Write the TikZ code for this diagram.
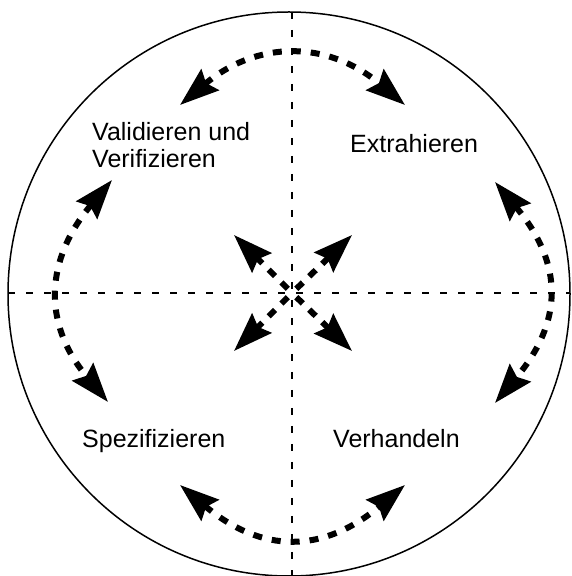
\documentclass[tikz,border=0pt]{standalone}
\usepackage{fontspec}
\setmainfont{Liberation Sans}
\usetikzlibrary{arrows.meta,shapes.geometric}
\begin{document}
\begin{tikzpicture}[x=1pt,y=1pt,
  bigtip/.tip={Stealth[length=39pt,width=27pt,inset=5pt]},
  guide/.style={line width=1.3pt, dash pattern=on 7pt off 11pt},
  cyclearrow/.style={line width=6pt, dash pattern=on 9pt off 10pt, bigtip-bigtip},
  ray/.style={line width=6pt, dash pattern=on 9pt off 9pt, dash phase=12pt, -bigtip},
  lbl/.style={font=\fontsize{25}{27}\selectfont, inner sep=0pt, align=left}]
\useasboundingbox (0,0) rectangle (571,576);
% outer ring
\node[ellipse, draw, line width=1.5pt, minimum width=562pt, minimum height=564pt, inner sep=0pt] (ring) at (289,282) {};
% guide lines
\coordinate (C) at (292,283);
\coordinate (top) at (292,564);
\coordinate (bot) at (292,0);
\coordinate (lft) at (8,283);
\coordinate (rgt) at (570,283);
\draw[guide] (top) -- (bot);
\draw[guide] (lft) -- (rgt);
% cycle arrows
\coordinate (tl) at (180,471); \coordinate (tr) at (405,471);
\coordinate (bl) at (180,91);  \coordinate (br) at (405,91);
\coordinate (lt) at (112,396); \coordinate (lb) at (108,174);
\coordinate (rt) at (495,394); \coordinate (rb) at (495,173);
\draw[cyclearrow] (tl) to[out=40,in=140,looseness=1.15] (tr);
\draw[cyclearrow] (bl) to[out=-40,in=-140,looseness=1.22] (br);
\draw[cyclearrow] (lt) to[out=-130,in=130,looseness=1.19] (lb);
\draw[cyclearrow] (rt) to[out=-50,in=50,looseness=1.24] (rb);
% centre rays
\coordinate (nw) at (234,341); \coordinate (ne) at (352,341);
\coordinate (sw) at (234,225); \coordinate (se) at (352,225);
\foreach \t in {nw,ne,sw,se} \draw[ray] (C) -- (\t);
% labels
\node[lbl, anchor=north west] (vv) at (92,453.5) {Validieren und\\Verifizieren};
\node[lbl, anchor=base west] (ex) at (350,423) {Extrahieren};
\node[lbl, anchor=base west] (sp) at (82,128) {Spezifizieren};
\node[lbl, anchor=base west] (vh) at (333,128) {Verhandeln};
\end{tikzpicture}
\end{document}
